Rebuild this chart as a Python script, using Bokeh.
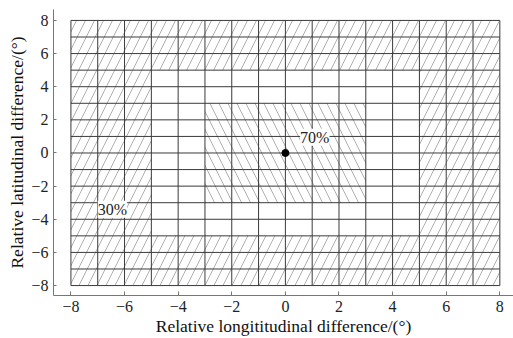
from bokeh.plotting import figure
from bokeh.models import FixedTicker, Range1d
from bokeh.embed import file_html
from bokeh.resources import INLINE
from bokeh.core.properties import value

# ---- data ----
grid_values = list(range(-8, 9))           # grid lines every 1 degree
tick_values = [-8, -6, -4, -2, 0, 2, 4, 6, 8]

# outer hatched zone (30%): |x|>=5 or |y|>=5, four bands
outer_left = [-8, -8, -8, 5]
outer_right = [8, 8, -5, 8]
outer_bottom = [5, -8, -5, -5]
outer_top = [8, -5, 5, 5]

# inner hatched zone (70%)
inner_left = [-3]
inner_right = [3]
inner_bottom = [-3]
inner_top = [3]

center_x = [0]
center_y = [0]

label_text = ["70%", "30%"]
label_x = [0.55, -7.0]
label_y = [0.95, -3.4]

FONT = "Liberation Serif"

p = figure(width=513, height=338, output_backend="svg", toolbar_location=None,
           x_range=Range1d(-8.65, 8.51), y_range=Range1d(-8.6, 8.66),
           min_border_left=53, min_border_right=0, min_border_top=9,
           min_border_bottom=42)
p.outline_line_color = None
p.xgrid.visible = False
p.ygrid.visible = False
p.background_fill_color = "white"
p.border_fill_color = "white"

p.quad(left=outer_left, right=outer_right, bottom=outer_bottom, top=outer_top,
       fill_color=None, line_color=None, hatch_pattern="/", hatch_color="#b0b0b0",
       hatch_scale=18, hatch_weight=1)
p.quad(left=inner_left, right=inner_right, bottom=inner_bottom, top=inner_top,
       fill_color=None, line_color=None, hatch_pattern="\\", hatch_color="#b0b0b0",
       hatch_scale=18, hatch_weight=1)

lo, hi = grid_values[0], grid_values[-1]
p.segment(x0=grid_values, x1=grid_values, y0=[lo] * len(grid_values), y1=[hi] * len(grid_values),
          line_color="#3a3a3a", line_width=1)
p.segment(x0=[lo] * len(grid_values), x1=[hi] * len(grid_values), y0=grid_values, y1=grid_values,
          line_color="#3a3a3a", line_width=1)

p.scatter(x=center_x, y=center_y, size=7, color="black")

p.text(x=label_x, y=label_y, text=label_text, text_font=value(FONT),
       text_font_size="16px", text_color="#222222", text_baseline="middle",
       text_align="left", background_fill_color="white")

for ax in (p.xaxis[0], p.yaxis[0]):
    ax.ticker = FixedTicker(ticks=tick_values)
    ax.axis_line_color = "#777777"
    ax.major_tick_line_color = "#777777"
    ax.major_tick_out = 0
    ax.minor_tick_in = 0
    ax.minor_tick_out = 0
    ax.major_label_text_font = FONT
    ax.major_label_text_font_size = "16px"
    ax.major_label_text_color = "#222222"
    ax.axis_label_text_font = FONT
    ax.axis_label_text_font_size = "17.5px"
    ax.axis_label_text_font_style = "normal"
    ax.axis_label_text_color = "#111111"

p.xaxis.major_tick_in = 4
p.yaxis.major_tick_in = 3
p.xaxis.major_label_standoff = 5
p.yaxis.major_label_standoff = 5
p.xaxis.axis_label_standoff = 1
p.yaxis.axis_label_standoff = 1
p.xaxis.major_label_overrides = {t: str(t).replace("-", "\u2212") for t in tick_values}
p.yaxis.major_label_overrides = {t: str(t).replace("-", "\u2212") for t in tick_values}
p.xaxis.axis_label = "Relative longititudinal difference/(\u00b0)"
p.yaxis.axis_label = "Relative latitudinal difference/(\u00b0)"

open("out.html", "w").write(file_html(p, INLINE))
